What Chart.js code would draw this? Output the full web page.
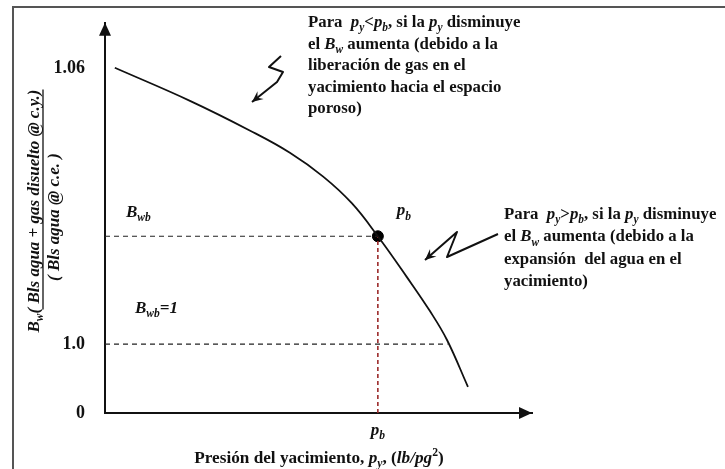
<!DOCTYPE html>
<html>
<head>
<meta charset="utf-8">
<script src="https://cdn.jsdelivr.net/npm/chart.js@4.4.0/dist/chart.umd.min.js"></script>
<style>
  html, body { margin: 0; padding: 0; background: #fff; }
  #wrap { width: 725px; height: 469px; position: relative; }
</style>
</head>
<body>
<div id="wrap"><canvas id="bwChart"></canvas></div>
<script>
// schematic Bw curve, pressure in arbitrary units (0-100), Bw in bbl/bbl
const curvePressure = [2.3, 19.9, 34.0, 43.3, 51.1, 57.8, 63.9, 70.7, 76.1, 80.1, 85.0];
const curveBw = [1.0602, 1.0530, 1.0465, 1.0417, 1.0365, 1.0307, 1.0235, 1.0146, 1.0072, 1.0009, 0.9907];

const pb = 63.9;
const bwb = 1.0235;
const bwOneEnd = 80.2;

const yTickValues = [0.985, 1.0, 1.06];
const yTickLabels = ["0", "1.0", "1.06"];

const serif = "'Liberation Serif', 'Times New Roman', serif";

function font(style, size) {
    return style + " " + size + "px " + serif;
}

// text pieces: [text, flags] where flags: i = italic, s = subscript, p = superscript
function segFont(f, size) {
    let sz = size;
    if (f.indexOf("s") >= 0 || f.indexOf("p") >= 0) sz = size * 0.68;
    return font((f.indexOf("i") >= 0 ? "italic " : "") + "bold", sz);
}

function richWidth(ctx, segs, size) {
    let w = 0;
    segs.forEach(function (s) {
        ctx.font = segFont(s[1] || "", size);
        w += ctx.measureText(s[0]).width;
    });
    return w;
}

function drawRich(ctx, x, y, segs, size, align) {
    let cx = x;
    if (align === "center") cx = x - richWidth(ctx, segs, size) / 2;
    segs.forEach(function (s) {
        const f = s[1] || "";
        let dy = 0;
        if (f.indexOf("s") >= 0) dy = size * 0.25;
        if (f.indexOf("p") >= 0) dy = -size * 0.4;
        ctx.font = segFont(f, size);
        ctx.fillText(s[0], cx, y + dy);
        cx += ctx.measureText(s[0]).width;
    });
    return cx;
}

function drawPolyArrow(ctx, pts) {
    ctx.beginPath();
    ctx.moveTo(pts[0][0], pts[0][1]);
    for (let i = 1; i < pts.length; i++) ctx.lineTo(pts[i][0], pts[i][1]);
    ctx.stroke();
    const a = pts[pts.length - 1], b = pts[pts.length - 2];
    const ang = Math.atan2(a[1] - b[1], a[0] - b[0]);
    ctx.beginPath();
    ctx.moveTo(a[0], a[1]);
    ctx.lineTo(a[0] - 12 * Math.cos(ang - 0.42), a[1] - 12 * Math.sin(ang - 0.42));
    ctx.lineTo(a[0] - 7 * Math.cos(ang), a[1] - 7 * Math.sin(ang));
    ctx.lineTo(a[0] - 12 * Math.cos(ang + 0.42), a[1] - 12 * Math.sin(ang + 0.42));
    ctx.closePath();
    ctx.fill();
}

const decorations = {
    id: "decorations",
    beforeDraw: function (chart) {
        const ctx = chart.ctx;
        ctx.save();
        ctx.fillStyle = "#fff";
        ctx.fillRect(0, 0, chart.width, chart.height);
        // page frame
        ctx.strokeStyle = "#555";
        ctx.lineWidth = 2;
        ctx.beginPath();
        ctx.moveTo(13, chart.height);
        ctx.lineTo(13, 7);
        ctx.lineTo(chart.width, 7);
        ctx.stroke();
        ctx.restore();
    },
    afterDraw: function (chart) {
        const ctx = chart.ctx;
        const area = chart.chartArea;
        const xs = chart.scales.x, ys = chart.scales.y;
        ctx.save();
        ctx.fillStyle = "#111";
        ctx.strokeStyle = "#111";

        // axis arrowheads
        ctx.beginPath();
        ctx.moveTo(area.left, area.top);
        ctx.lineTo(area.left - 6, area.top + 13);
        ctx.lineTo(area.left + 6, area.top + 13);
        ctx.closePath();
        ctx.fill();
        ctx.beginPath();
        ctx.moveTo(area.right, area.bottom);
        ctx.lineTo(area.right - 13, area.bottom - 6);
        ctx.lineTo(area.right - 13, area.bottom + 6);
        ctx.closePath();
        ctx.fill();

        ctx.textBaseline = "alphabetic";
        ctx.textAlign = "left";

        // pb tick under the x axis
        drawRich(ctx, xs.getPixelForValue(pb), area.bottom + 22, [["p", "i"], ["b", "is"]], 17, "center");
        // pb label next to the bubble point
        drawRich(ctx, xs.getPixelForValue(pb) + 19, ys.getPixelForValue(bwb) - 21, [["p", "i"], ["b", "is"]], 17);

        // Bwb labels
        drawRich(ctx, 126, 217, [["B", "i"], ["wb", "is"]], 17);
        drawRich(ctx, 135, 313, [["B", "i"], ["wb", "is"], ["=1", "i"]], 17);

        // x axis title
        drawRich(ctx, 319, 463, [["Presión del yacimiento, "], ["p", "i"], ["y", "is"], [", ("], ["lb/pg", "i"], ["2", "p"], [")"]], 17.2, "center");

        // y axis title as a rotated fraction
        ctx.save();
        ctx.translate(0, 211);
        ctx.rotate(-Math.PI / 2);
        const numer = [["B", "i"], ["w", "is"], ["( Bls agua + gas disuelto @ c.y.)", "i"]];
        const nw = richWidth(ctx, numer, 17);
        const bwW = richWidth(ctx, [["B", "i"], ["w", "is"]], 17);
        drawRich(ctx, -nw / 2, 39, numer, 17);
        ctx.lineWidth = 1.3;
        ctx.beginPath();
        ctx.moveTo(-nw / 2 + bwW + 4, 43);
        ctx.lineTo(nw / 2, 43);
        ctx.stroke();
        drawRich(ctx, -6, 59, [["( Bls agua @ c.e. )", "i"]], 17, "center");
        ctx.restore();

        // annotation 1
        const note1 = [
            [["Para  "], ["p", "i"], ["y", "is"], ["<"], ["p", "i"], ["b", "is"], [", si la "], ["p", "i"], ["y", "is"], [" disminuye"]],
            [["el "], ["B", "i"], ["w", "is"], [" aumenta (debido a la"]],
            [["liberación de gas en el"]],
            [["yacimiento hacia el espacio"]],
            [["poroso)"]]
        ];
        note1.forEach(function (line, i) {
            drawRich(ctx, 308, 27 + i * 21.5, line, 16.8);
        });

        // annotation 2
        const note2 = [
            [["Para  "], ["p", "i"], ["y", "is"], [">"], ["p", "i"], ["b", "is"], [", si la "], ["p", "i"], ["y", "is"], [" disminuye"]],
            [["el "], ["B", "i"], ["w", "is"], [" aumenta (debido a la"]],
            [["expansión  del agua en el"]],
            [["yacimiento)"]]
        ];
        note2.forEach(function (line, i) {
            drawRich(ctx, 504, 219 + i * 22.3, line, 16.8);
        });

        // zigzag pointers
        ctx.lineWidth = 2;
        ctx.lineJoin = "round";
        drawPolyArrow(ctx, [[281, 56], [269, 67], [283, 72], [277, 82], [252, 102]]);
        drawPolyArrow(ctx, [[498, 234], [447, 257], [457, 232], [425, 260]]);

        ctx.restore();
    }
};

const ctx = document.getElementById("bwChart").getContext("2d");

new Chart(ctx, {
    type: "line",
    data: {
        datasets: [{
            data: curvePressure.map(function (p, i) { return { x: p, y: curveBw[i] }; }),
            borderColor: "#111",
            borderWidth: 1.8,
            pointRadius: 0,
            tension: 0.4,
            fill: false
        }, {
            data: [{ x: 0, y: bwb }, { x: pb, y: bwb }],
            borderColor: "#222",
            borderWidth: 1.2,
            borderDash: [5, 4],
            pointRadius: 0
        }, {
            data: [{ x: 0, y: 1.0 }, { x: bwOneEnd, y: 1.0 }],
            borderColor: "#222",
            borderWidth: 1.2,
            borderDash: [5, 4],
            pointRadius: 0
        }, {
            data: [{ x: pb, y: yTickValues[0] }, { x: pb, y: bwb }],
            borderColor: "#9b2a2a",
            borderWidth: 1.6,
            borderDash: [4, 3],
            pointRadius: 0
        }, {
            data: [{ x: pb, y: bwb }],
            showLine: false,
            pointRadius: 5.5,
            pointBackgroundColor: "#000",
            pointBorderColor: "#000"
        }]
    },
    options: {
        responsive: true,
        maintainAspectRatio: false,
        animation: false,
        layout: {
            padding: { top: 13, right: 193, bottom: 0, left: 0 }
        },
        plugins: {
            legend: { display: false },
            tooltip: { enabled: false }
        },
        scales: {
            x: {
                type: "linear",
                min: 0,
                max: 100,
                grid: { display: false },
                border: { display: true, color: "#111", width: 2 },
                ticks: { display: false },
                afterFit: function (scale) { scale.height = 56; }
            },
            y: {
                type: "linear",
                min: 0.985,
                max: 1.07,
                grid: { display: false },
                border: { display: true, color: "#111", width: 2 },
                afterBuildTicks: function (scale) {
                    scale.ticks = yTickValues.map(function (v) { return { value: v }; });
                },
                ticks: {
                    padding: 12,
                    color: "#111",
                    font: { family: serif, size: 18, weight: "bold" },
                    callback: function (value) {
                        const i = yTickValues.indexOf(value);
                        return i >= 0 ? yTickLabels[i] : "";
                    }
                },
                afterFit: function (scale) { scale.width = 105; }
            }
        }
    },
    plugins: [decorations]
});
</script>
</body>
</html>
